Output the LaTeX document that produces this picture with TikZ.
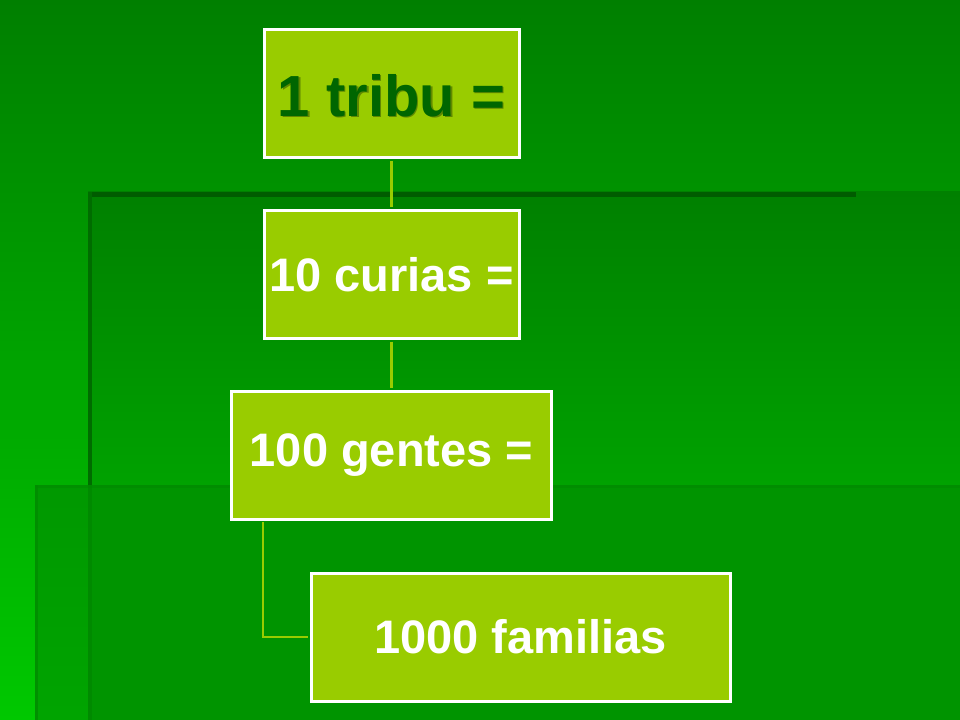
\documentclass[tikz,border=0pt]{standalone}
\usepackage{fontspec}
\setmainfont{Liberation Sans}
\definecolor{boxfill}{HTML}{99CC00}
\definecolor{darktxt}{HTML}{006600}
\definecolor{linkcol}{HTML}{99CC00}
\definecolor{bgtop}{RGB}{0,127,0}
\definecolor{bgbot}{RGB}{0,200,0}
\definecolor{atop}{RGB}{0,128,0}
\definecolor{abot}{RGB}{0,162,0}
\definecolor{alow}{RGB}{0,168,0}
\definecolor{bover}{RGB}{0,130,0}
\definecolor{edgeA}{RGB}{0,92,0}
\definecolor{edgeAl}{RGB}{0,108,0}
\definecolor{edgeAll}{RGB}{0,120,0}
\definecolor{edgeB}{RGB}{0,132,0}
\definecolor{edgeBl}{RGB}{0,140,0}
\definecolor{shadowtxt}{RGB}{40,70,0}
\tikzset{
  slidebox/.style={draw=white, line width=2.25pt, fill=boxfill, inner sep=0pt,
    minimum height=96pt, font=\fontsize{35.25pt}{40pt}\selectfont\bfseries, text=white},
  link/.style={draw=linkcol, line width=1.6pt},
}
\begin{document}
\begin{tikzpicture}[x=0.75pt,y=-0.75pt]
\useasboundingbox (0,0) rectangle (960,720);
% background
\shade[top color=bgtop, bottom color=bgbot] (0,0) rectangle (960,720);
\shade[top color=atop, bottom color=abot] (88,192) rectangle (960,485);
\fill[alow] (88,485) rectangle (960,720);
\fill[bover, opacity=0.5] (35,485) rectangle (960,720);
% edges
\fill[edgeA] (88,192) rectangle (856,197);
\fill[edgeAl] (88,192) rectangle (92,485);
\fill[edgeAll, opacity=0.35] (88,485) rectangle (92,720);
\fill[edgeB, opacity=0.4] (35,485) rectangle (960,488);
\fill[edgeBl, opacity=0.8] (35,485) rectangle (38,720);
% boxes
\node[slidebox, minimum width=191.25pt] (b1) at (391.5,94) {};
\node[text=shadowtxt, opacity=0.5, inner sep=0pt,
  font=\fontsize{43.5pt}{50pt}\selectfont\bfseries] (b1s) at (393,97) {1 tribu =};
\node[text=darktxt, inner sep=0pt, font=\fontsize{43.5pt}{50pt}\selectfont\bfseries] (b1t) at (391.5,95.5) {1 tribu =};
\node[slidebox, minimum width=191.25pt] (b2) at (391.5,274.5) {10 curias =};
\node[slidebox, minimum width=240pt] (b3) at (391.5,455) {100 gentes =};
\node[slidebox, minimum width=314.25pt] (b4) at (520.5,637) {1000 familias};
% connectors
\coordinate (elbow) at (263,637);
\draw[link, shorten <=1.2pt, shorten >=1.2pt] (b1.south) -- (b2.north);
\draw[link, shorten <=1.2pt, shorten >=1.2pt] (b2.south) -- (b3.north);
\draw[link, shorten <=1.2pt, shorten >=1.2pt] (b3.south -| elbow) -- (elbow) -- (b4.west);
\end{tikzpicture}
\end{document}
